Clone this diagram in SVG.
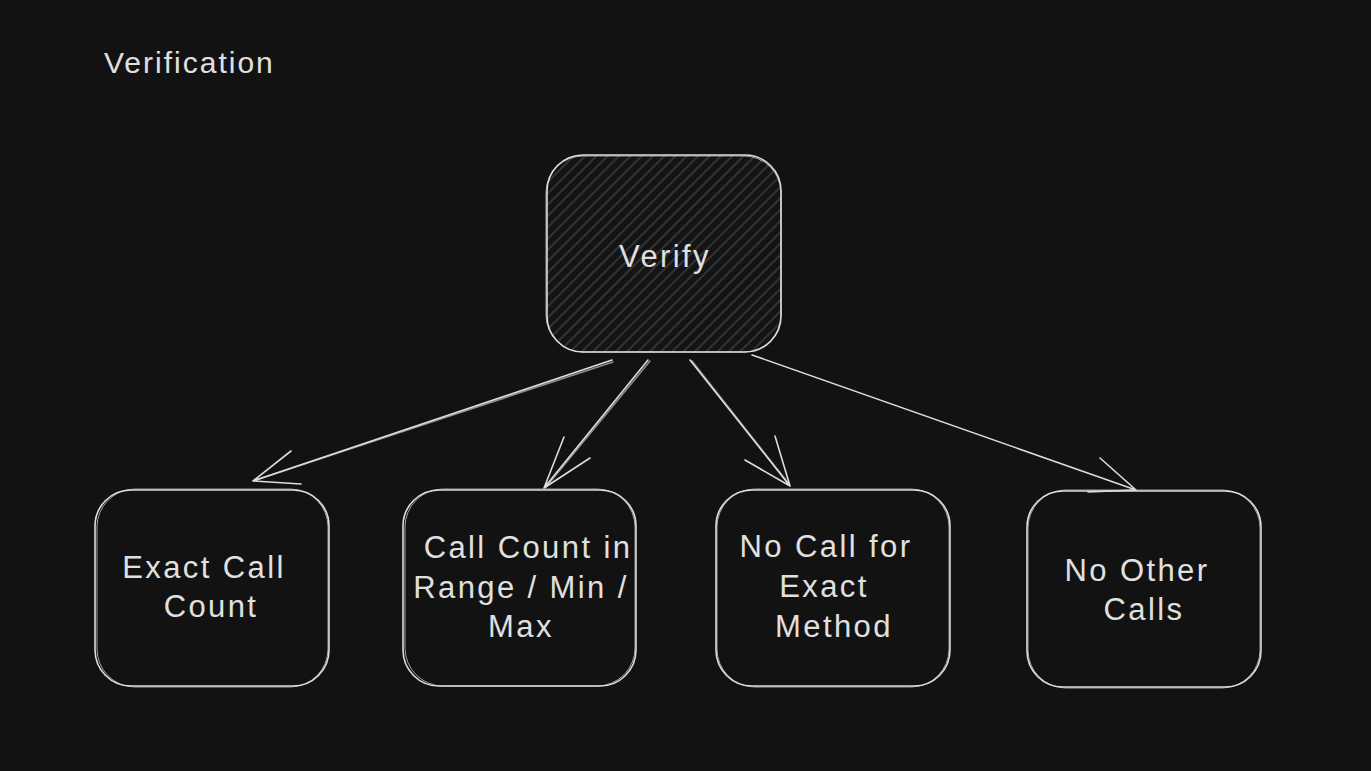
<svg xmlns="http://www.w3.org/2000/svg" width="1371" height="771" viewBox="0 0 1371 771">
<style>
.bg{fill:#121212}
.box{fill:none;stroke:#dcdcdc;stroke-width:1.6}
.box2{fill:none;stroke:#dcdcdc;stroke-width:1;opacity:0.7}
.lbl{font-family:"Liberation Sans","Open Sans",sans-serif;font-size:31px;fill:#e0e0e0;text-anchor:middle;letter-spacing:2.4px}
.title{font-family:"Liberation Sans","Open Sans",sans-serif;font-size:30px;fill:#e0e0e0;letter-spacing:2px}
.conn{fill:none;stroke:#dcdcdc;stroke-width:1.6;stroke-linecap:round;stroke-linejoin:round}
</style>
<defs>
<pattern id="hatch" width="8" height="8" patternUnits="userSpaceOnUse" patternTransform="rotate(45)">
<rect width="8" height="8" fill="#141414"/>
<line x1="4" y1="0" x2="4" y2="8" stroke="#3c4146" stroke-width="1.4"/>
</pattern>
</defs>
<rect class="bg" x="0" y="0" width="1371" height="771"/>
<text id="title" class="title" x="104" y="73">Verification</text>

<g id="verify">
<rect x="547" y="155" width="234" height="197" rx="36" fill="url(#hatch)" stroke="#dcdcdc" stroke-width="1.6"/>
<rect class="box2" x="546" y="156" width="235" height="196" rx="37"/>
<text class="lbl" x="665" y="267">Verify</text>
</g>

<g id="exact-call-count">
<rect class="box" x="95" y="490" width="234" height="196" rx="36"/>
<rect class="box2" x="97" y="489" width="231" height="198" rx="38"/>
<text class="lbl" x="204" y="578">Exact Call</text>
<text class="lbl" x="211" y="617">Count</text>
</g>

<g id="call-count-range">
<rect class="box" x="403" y="490" width="233" height="196" rx="36"/>
<rect class="box2" x="405" y="489" width="230" height="197" rx="38"/>
<text class="lbl" x="528" y="558">Call Count in</text>
<text class="lbl" x="521" y="598">Range / Min /</text>
<text class="lbl" x="521" y="637">Max</text>
</g>

<g id="no-call-exact">
<rect class="box" x="716" y="490" width="234" height="196" rx="36"/>
<rect class="box2" x="717" y="489" width="232" height="198" rx="38"/>
<text class="lbl" x="826" y="557">No Call for</text>
<text class="lbl" x="824" y="597">Exact</text>
<text class="lbl" x="834" y="637">Method</text>
</g>

<g id="no-other-calls">
<rect class="box" x="1027" y="491" width="234" height="196" rx="36"/>
<rect class="box2" x="1028" y="490" width="232" height="198" rx="38"/>
<text class="lbl" x="1137" y="581">No Other</text>
<text class="lbl" x="1144" y="620">Calls</text>
</g>

<g id="connectors">
<path class="conn" d="M612 360 L253 481 M291 451 L253 481 L301 484"/>
<path class="conn" d="M613 362 L256 480" opacity="0.6"/>
<path class="conn" d="M648 360 L544 488 M590 458 L544 488 L564 437"/>
<path class="conn" d="M650 361 L546 487" opacity="0.6"/>
<path class="conn" d="M690 360 L790 486 M745 460 L790 486 L775 436"/>
<path class="conn" d="M692 361 L789 484" opacity="0.6"/>
<path class="conn" d="M752 355 L1136 490 M1100 458 L1136 490 L1088 492"/>
</g>
</svg>
